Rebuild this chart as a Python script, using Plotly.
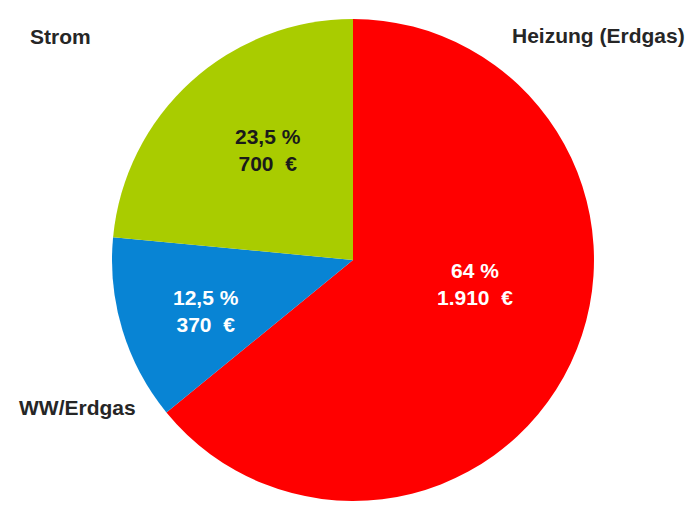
import plotly.graph_objects as go

labels = ["Heizung (Erdgas)", "WW/Erdgas", "Strom"]
values = [1910, 370, 700]
percent_text = ["64 %", "12,5 %", "23,5 %"]
euro_text = ["1.910  €", "370  €", "700  €"]
colors = ["#FF0000", "#0884D4", "#A9CC00"]
text_colors = ["#FFFFFF", "#FFFFFF", "#1A1A1A"]

FONT = "Liberation Sans, Arial, sans-serif"

fig = go.Figure(go.Pie(
    labels=labels,
    values=values,
    textinfo="none",
    marker=dict(colors=colors, line=dict(width=0)),
    sort=False,
    direction="clockwise",
    rotation=0,
    hole=0,
    domain=dict(x=[0.1614, 0.8559], y=[0.0196, 0.9628]),
    showlegend=False,
    hoverinfo="label+value+percent",
))

# outside category labels
label_pos = {
    "Heizung (Erdgas)": (0.9899, 0.9315, "right"),
    "WW/Erdgas": (0.0245, 0.2035, "left"),
    "Strom": (0.0403, 0.9276, "left"),
}
# in-slice value labels (block centres)
value_pos = {
    "Heizung (Erdgas)": (0.6844, 0.4442),
    "WW/Erdgas": (0.2968, 0.3914),
    "Strom": (0.3862, 0.7065),
}
for lab, pct, eur, tc in zip(labels, percent_text, euro_text, text_colors):
    x, y, anchor = label_pos[lab]
    fig.add_annotation(x=x, y=y, xref="paper", yref="paper", text=f"<b>{lab}</b>",
                       showarrow=False, xanchor=anchor, yanchor="middle",
                       font=dict(family=FONT, size=21, color="#262626"))
    vx, vy = value_pos[lab]
    fig.add_annotation(x=vx, y=vy, xref="paper", yref="paper",
                       text=f"<b>{pct}</b><br><b>{eur}</b>",
                       showarrow=False, xanchor="center", yanchor="middle", align="center",
                       font=dict(family=FONT, size=21, color=tc))

fig.update_layout(
    width=694, height=511,
    margin=dict(l=0, r=0, t=0, b=0),
    paper_bgcolor="white",
    plot_bgcolor="white",
    font=dict(family=FONT),
)
fig.write_html("out.html",
               config={"displayModeBar": False},
               post_script="document.body.style.margin='0px';document.body.style.overflow='hidden';")
